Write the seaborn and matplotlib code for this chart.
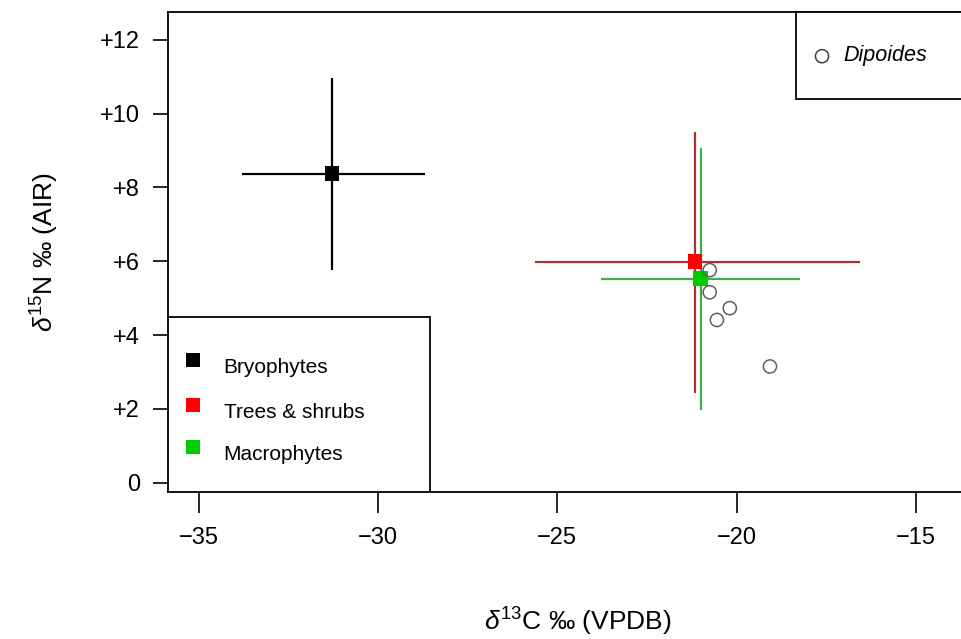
import matplotlib
matplotlib.use("Agg")
import matplotlib.pyplot as plt
import seaborn as sns
import pandas as pd
from matplotlib.patches import Rectangle

# group means and ranges (d13C, d15N)
groups = ["Bryophytes", "Trees & shrubs", "Macrophytes"]
c13_mean = [-31.29, -21.16, -21.00]
c13_low = [-33.80, -25.63, -23.79]
c13_high = [-28.70, -16.56, -18.24]
n15_mean = [8.37, 5.99, 5.53]
n15_low = [5.75, 2.44, 1.98]
n15_high = [10.95, 9.51, 9.08]
marker_colors = ["#000000", "#ff0000", "#00cc00"]
line_colors = ["#000000", "#a83232", "#3fae49"]

# Dipoides individual samples
dip_c13 = [-20.75, -20.75, -20.19, -20.55, -19.07]
dip_n15 = [5.76, 5.16, 4.73, 4.41, 3.15]

yticks = [0, 2, 4, 6, 8, 10, 12]
ytick_labels = ["0", "+2", "+4", "+6", "+8", "+10", "+12"]
xticks = [-35, -30, -25, -20, -15]

sns.set_theme(style="white")
plt.rcParams["font.family"] = ["Liberation Sans", "DejaVu Sans"]
plt.rcParams["mathtext.fontset"] = "custom"
plt.rcParams["mathtext.rm"] = "Liberation Sans"
plt.rcParams["mathtext.it"] = "Liberation Sans:italic"
plt.rcParams["text.color"] = "black"
plt.rcParams["axes.labelcolor"] = "black"

fig = plt.figure(figsize=(9.62, 6.39), dpi=100)
ax = fig.add_axes([0.1746, 0.230, 0.852, 0.7512])

df = pd.DataFrame({"group": groups, "x": c13_mean, "y": n15_mean})
dip = pd.DataFrame({"x": dip_c13, "y": dip_n15})

# crosses
for i in range(len(groups)):
    ax.hlines(n15_mean[i], c13_low[i], c13_high[i], color=line_colors[i], lw=1.6, zorder=2)
    ax.vlines(c13_mean[i], n15_low[i], n15_high[i], color=line_colors[i], lw=1.6, zorder=2)

sns.scatterplot(data=dip, x="x", y="y", ax=ax, marker="o", s=90,
                facecolor="none", edgecolor="#606060", linewidth=1.1, zorder=4)
sns.scatterplot(data=df, x="x", y="y", hue="group", palette=marker_colors,
                marker="s", s=110, linewidth=0, legend=False, ax=ax, zorder=3)

ax.set_xlim(-35.86, -13.0)
ax.set_ylim(-0.25, 12.75)
ax.set_xticks(xticks)
ax.set_yticks(yticks)
ax.set_yticklabels(ytick_labels)
ax.tick_params(axis="y", length=11, width=1.2, pad=9, labelsize=17, colors="black", left=True)
ax.tick_params(axis="x", length=15, width=1.2, pad=10, labelsize=17, colors="black", bottom=True)
for sp in ax.spines.values():
    sp.set_color("black")
    sp.set_linewidth(1.3)

ax.set_xlabel(r"$\it{\delta}^{13}$C ‰ (VPDB)", fontsize=19, labelpad=41)
ax.set_ylabel(r"$\it{\delta}^{15}$N ‰ (AIR)", fontsize=19, labelpad=28)

# legend box, bottom left
ax.add_patch(Rectangle((0.0, 0.0), 0.3197, 0.3646, transform=ax.transAxes,
                       facecolor="white", edgecolor="black", lw=1.3, zorder=5))
leg_y = [0.275, 0.182, 0.094]
for lab, col, yy in zip(groups, marker_colors, leg_y):
    ax.scatter([0.0305], [yy], transform=ax.transAxes, marker="s", s=90,
               color=col, linewidths=0, zorder=6)
    ax.text(0.068, yy - 0.016, lab, transform=ax.transAxes, fontsize=15,
            va="center", ha="left", zorder=6)

# legend box, top right
ax.add_patch(Rectangle((0.766, 0.819), 0.3, 0.181, transform=ax.transAxes,
                       facecolor="white", edgecolor="black", lw=1.3, zorder=5, clip_on=False))
ax.scatter([0.798], [0.908], transform=ax.transAxes, marker="o", s=90,
           facecolor="none", edgecolor="#404040", linewidths=1.1, zorder=6)
ax.text(0.8236, 0.91, "Dipoides", transform=ax.transAxes, fontsize=15.5,
        style="italic", va="center", ha="left", zorder=6)

fig.savefig("out.png", dpi=100)
